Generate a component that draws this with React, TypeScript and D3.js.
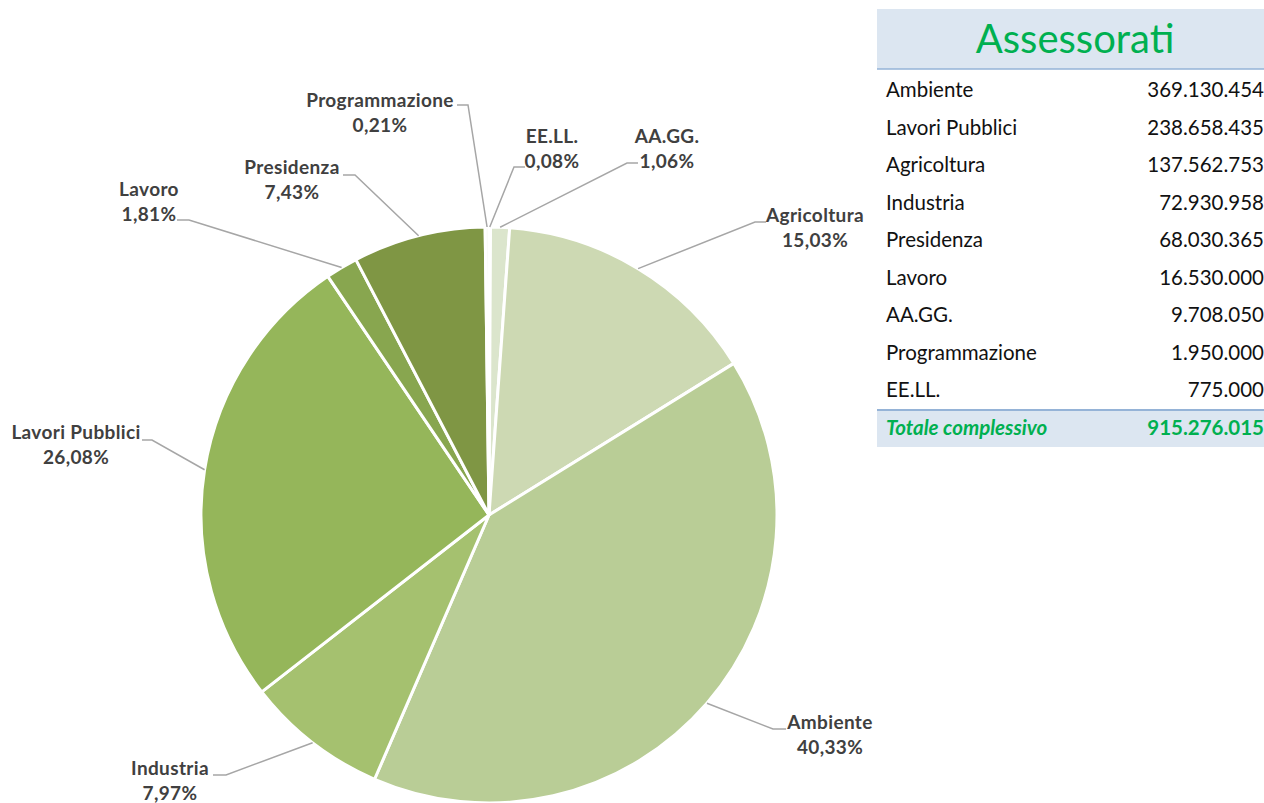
import React from "react";
import * as d3 from "d3";

const categories = ["EE.LL.", "AA.GG.", "Agricoltura", "Ambiente", "Industria", "Lavori Pubblici", "Lavoro", "Presidenza", "Programmazione"];
const amounts = [775000, 9708050, 137562753, 369130454, 72930958, 238658435, 16530000, 68030365, 1950000];
const sliceColors = ["#eef3e6", "#dbe5cc", "#cdd9b3", "#b9cd96", "#a5c16f", "#95b65a", "#88a64f", "#7f9644", "#f4f7ef"];
const tableTitle = "Assessorati";
const totalLabel = "Totale complessivo";

// label layout: text centre x, first baseline y, elbow point, end of horizontal stub
const labelLayout: Record<string, { x: number; y: number; elbow: [number, number]; end: [number, number] }> = {
  "EE.LL.": { x: 552, y: 143, elbow: [514, 167], end: [525, 167] },
  "AA.GG.": { x: 667, y: 143, elbow: [627, 163], end: [638, 163] },
  "Agricoltura": { x: 815, y: 222, elbow: [755, 222], end: [766, 222] },
  "Ambiente": { x: 830, y: 729, elbow: [773, 729], end: [786, 729] },
  "Industria": { x: 170, y: 775, elbow: [226, 775], end: [213, 775] },
  "Lavori Pubblici": { x: 76, y: 439, elbow: [152, 440], end: [142, 440] },
  "Lavoro": { x: 149, y: 196, elbow: [189, 220], end: [177, 220] },
  "Presidenza": { x: 292, y: 174, elbow: [355, 175], end: [343, 175] },
  "Programmazione": { x: 380, y: 107, elbow: [468, 105], end: [457, 105] },
};

const it = d3.formatLocale({ decimal: ",", thousands: ".", grouping: [3], currency: ["€", ""] });
const fmtInt = it.format(",d");
const fmtPct = it.format(".2f");

export default function App() {
  const W = 1264, H = 803;
  const cx = 489, cy = 515, R = 288;
  const total = d3.sum(amounts);
  const data = categories.map((c, i) => ({ name: c, value: amounts[i], color: sliceColors[i] }));
  const pie = d3.pie<any>().sort(null).value((d) => d.value).startAngle(0).endAngle(2 * Math.PI);
  const arcs = pie(data);
  const arcGen = d3.arc<any>().innerRadius(0).outerRadius(R);

  const tableRows = [...data].sort((a, b) => b.value - a.value);
  const rowY = d3.scaleLinear().domain([0, 1]).range([97, 134.5]);
  const tX = 877, tRight = 1264;

  const labelFont = "Lato, 'Open Sans', sans-serif";
  const lblSize = 19;
  const lblSpacing = 0.35;

  return (
    <svg width={W} height={H} style={{ position: "absolute", left: 0, top: 0, background: "#fff" }}>
      <g transform={`translate(${cx},${cy})`}>
        {arcs.map((a, i) => (
          <path key={i} d={arcGen(a) || ""} fill={a.data.color} stroke="#fff" strokeWidth={3} strokeLinejoin="round" />
        ))}
      </g>
      {arcs.map((a, i) => {
        const L = labelLayout[a.data.name];
        const mid = (a.startAngle + a.endAngle) / 2;
        const px = cx + R * Math.sin(mid);
        const py = cy - R * Math.cos(mid);
        const pts = `${px},${py} ${L.elbow[0]},${L.elbow[1]} ${L.end[0]},${L.end[1]}`;
        return (
          <g key={"l" + i}>
            <polyline points={pts} fill="none" stroke="#a6a6a6" strokeWidth={1.5} />
            <text x={L.x} y={L.y} textAnchor="middle" fontFamily={labelFont} fontWeight={700} fontSize={lblSize} letterSpacing={lblSpacing} fill="#404040">
              {a.data.name}
            </text>
            <text x={L.x} y={L.y + 25} textAnchor="middle" fontFamily={labelFont} fontWeight={700} fontSize={lblSize} letterSpacing={lblSpacing} fill="#404040">
              {fmtPct((a.data.value / total) * 100) + "%"}
            </text>
          </g>
        );
      })}

      {/* table */}
      <rect x={tX} y={9} width={W - tX} height={60} fill="#dce6f1" />
      <line x1={tX} x2={W} y1={69} y2={69} stroke="#95b3d7" strokeWidth={1.5} />
      <text x={1075} y={53} textAnchor="middle" fontFamily={labelFont} fontSize={40} fill="#00b050">{tableTitle}</text>
      {tableRows.map((r, i) => (
        <g key={"r" + i}>
          <text x={886} y={rowY(i)} fontFamily={labelFont} fontSize={20.5} fill="#111">{r.name}</text>
          <text x={tRight} y={rowY(i)} textAnchor="end" fontFamily={labelFont} fontSize={20.5} fill="#111">{fmtInt(r.value)}</text>
        </g>
      ))}
      <rect x={tX} y={410} width={W - tX} height={37} fill="#dce6f1" />
      <line x1={tX} x2={W} y1={410} y2={410} stroke="#95b3d7" strokeWidth={2} />
      <text x={886} y={rowY(tableRows.length)} fontFamily={labelFont} fontSize={20.5} fontWeight={700} fontStyle="italic" fill="#00b050">{totalLabel}</text>
      <text x={tRight} y={rowY(tableRows.length)} textAnchor="end" fontFamily={labelFont} fontSize={20.5} fontWeight={700} fill="#00b050">{fmtInt(total)}</text>
    </svg>
  );
}
